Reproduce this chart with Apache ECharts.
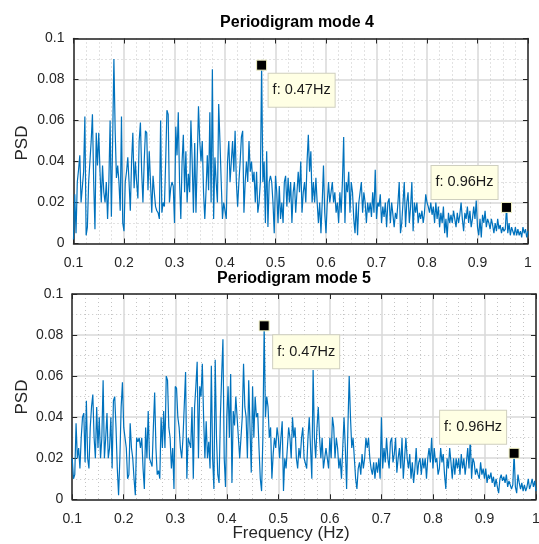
<!DOCTYPE html>
<html>
<head>
<meta charset="utf-8">
<script src="https://cdn.jsdelivr.net/npm/echarts@6/dist/echarts.min.js"></script>
<style>
  html, body { margin: 0; background: #fff; }
  #main { width: 539px; height: 544px; }
</style>
</head>
<body>
<div id="main"></div>
<script>
// frequency grid of the periodograms (Hz)
var fStart = 0.1
var fStep = 0.0025

// PSD, 20 bins (0.05 Hz) per row
var psdMode4 = [
  0.002,0.024,0.005,0.03,0.036,0.043,0.02,0.02,0.035,0.062,0.004,0.008,0.03,0.04,0.05,0.063,0.03,0.007,0.054,0.038,
  0.054,0.035,0.02,0.038,0.025,0.02,0.03,0.012,0.03,0.06,0.013,0.05,0.09,0.055,0.032,0.038,0.03,0.016,0.062,0.01,
  0.006,0.03,0.035,0.042,0.03,0.016,0.04,0.054,0.027,0.04,0.03,0.022,0.05,0.059,0.035,0.02,0.04,0.055,0.054,0.026,
  0.045,0.03,0.015,0.033,0.025,0.018,0.016,0.015,0.012,0.06,0.015,0.02,0.018,0.04,0.065,0.063,0.02,0.027,0.03,0.028,
  0.01,0.057,0.043,0.064,0.03,0.012,0.04,0.053,0.025,0.045,0.02,0.034,0.025,0.06,0.04,0.015,0.049,0.015,0.04,0.067,
  0.05,0.04,0.05,0.025,0.012,0.026,0.043,0.026,0.064,0.02,0.085,0.012,0.042,0.03,0.02,0.068,0.05,0.03,0.012,0.02,
  0.02,0.012,0.04,0.05,0.03,0.04,0.05,0.035,0.055,0.03,0.018,0.03,0.04,0.052,0.055,0.015,0.03,0.04,0.03,0.05,
  0.035,0.04,0.03,0.035,0.02,0.035,0.015,0.02,0.03,0.087,0.03,0.04,0.01,0.045,0.008,0.03,0.033,0.03,0.02,0.005,
  0.033,0.025,0.01,0.028,0.012,0.02,0.01,0.03,0.033,0.018,0.032,0.02,0.03,0.01,0.025,0.03,0.015,0.025,0.035,0.025,
  0.04,0.015,0.025,0.03,0.02,0.04,0.053,0.035,0.045,0.02,0.03,0.02,0.032,0.02,0.01,0.02,0.005,0.02,0.038,0.015,
  0.005,0.02,0.03,0.02,0.025,0.03,0.02,0.025,0.015,0.02,0.01,0.025,0.015,0.03,0.052,0.01,0.03,0.025,0.035,0.015,
  0.03,0.025,0.012,0.005,0.02,0.004,0.02,0.025,0.03,0.015,0.025,0.02,0.01,0.02,0.015,0.02,0.013,0.025,0.015,0.036,
  0.012,0.02,0.018,0.024,0.01,0.018,0.013,0.02,0.008,0.02,0.022,0.01,0.02,0.02,0.008,0.015,0.012,0.02,0.03,0.005,
  0.01,0.02,0.03,0.008,0.02,0.025,0.01,0.018,0.03,0.006,0.02,0.015,0.02,0.01,0.015,0.012,0.016,0.01,0.015,0.024,
  0.02,0.018,0.015,0.02,0.014,0.018,0.01,0.02,0.012,0.018,0.008,0.015,0.01,0.018,0.005,0.012,0.003,0.015,0.01,0.014,
  0.01,0.016,0.012,0.008,0.015,0.01,0.014,0.02,0.012,0.006,0.015,0.012,0.018,0.01,0.016,0.008,0.012,0.018,0.012,0.021,
  0.008,0.004,0.012,0.003,0.014,0.01,0.016,0.008,0.012,0.01,0.007,0.012,0.009,0.005,0.01,0.006,0.012,0.007,0.009,0.005,
  0.008,0.006,0.007,0.0176,0.005,0.01,0.004,0.008,0.006,0.004,0.008,0.004,0.007,0.004,0.006,0.003,0.008,0.005,0.007,0.003,
  0.006
]

var psdMode5 = [
  0.02,0.01,0.012,0.037,0.02,0.025,0.015,0.03,0.04,0.042,0.018,0.048,0.02,0.015,0.035,0.045,0.051,0.03,0.02,0.045,
  0.025,0.04,0.02,0.03,0.058,0.02,0.03,0.042,0.02,0.025,0.04,0.015,0.048,0.05,0.035,0.015,0.002,0.02,0.045,0.057,
  0.035,0.03,0.025,0.01,0.012,0.037,0.025,0.02,0.01,0.002,0.03,0.028,0.03,0.025,0.03,0.015,0.005,0.035,0.02,0.043,
  0.02,0.018,0.016,0.035,0.052,0.025,0.012,0.014,0.01,0.04,0.025,0.043,0.025,0.06,0.058,0.035,0.03,0.015,0.025,0.005,
  0.055,0.054,0.04,0.035,0.025,0.02,0.03,0.03,0.062,0.01,0.03,0.03,0.025,0.045,0.01,0.045,0.055,0.067,0.02,0.055,
  0.05,0.066,0.04,0.02,0.038,0.02,0.028,0.015,0.065,0.02,0.005,0.068,0.03,0.012,0.008,0.04,0.06,0.078,0.02,0.006,
  0.04,0.055,0.03,0.061,0.008,0.043,0.036,0.05,0.04,0.03,0.02,0.03,0.04,0.066,0.045,0.04,0.02,0.058,0.035,0.013,
  0.055,0.03,0.05,0.04,0.042,0.025,0.01,0.004,0.03,0.0845,0.04,0.05,0.045,0.03,0.035,0.01,0.022,0.03,0.025,0.035,
  0.03,0.02,0.03,0.038,0.004,0.02,0.015,0.025,0.035,0.03,0.02,0.04,0.03,0.035,0.02,0.015,0.025,0.02,0.03,0.035,
  0.02,0.02,0.015,0.03,0.04,0.025,0.01,0.063,0.03,0.02,0.035,0.045,0.03,0.02,0.03,0.015,0.02,0.025,0.02,0.015,
  0.03,0.02,0.04,0.035,0.02,0.03,0.025,0.015,0.02,0.01,0.025,0.04,0.025,0.005,0.035,0.06,0.04,0.025,0.03,0.02,
  0.01,0.005,0.015,0.018,0.012,0.022,0.015,0.02,0.03,0.025,0.03,0.02,0.015,0.012,0.018,0.01,0.018,0.013,0.02,0.01,
  0.04,0.015,0.025,0.018,0.03,0.02,0.015,0.028,0.03,0.018,0.022,0.03,0.013,0.02,0.025,0.015,0.03,0.01,0.02,0.03,
  0.02,0.015,0.022,0.01,0.018,0.008,0.015,0.025,0.012,0.018,0.02,0.012,0.02,0.015,0.02,0.01,0.02,0.025,0.018,0.03,
  0.015,0.025,0.018,0.02,0.012,0.015,0.025,0.018,0.022,0.012,0.005,0.02,0.015,0.025,0.018,0.01,0.02,0.012,0.02,0.015,
  0.02,0.012,0.022,0.015,0.02,0.012,0.018,0.025,0.015,0.03,0.01,0.02,0.018,0.012,0.015,0.012,0.01,0.018,0.012,0.015,
  0.01,0.015,0.008,0.012,0.01,0.013,0.008,0.011,0.006,0.01,0.006,0.003,0.01,0.012,0.009,0.011,0.008,0.012,0.006,0.009,
  0.007,0.005,0.007,0.0224,0.006,0.003,0.012,0.008,0.005,0.008,0.004,0.007,0.004,0.006,0.01,0.005,0.007,0.01,0.006,0.009,
  0.004
]

var titles = ['Periodigram mode 4', 'Periodigram mode 5']
// data tips: bin index of each marked peak and its text
var tipIdx = [149, 343]
var tipLabels = ['f: 0.47Hz', 'f: 0.96Hz']

var font = '"Liberation Sans", Arial, Helvetica, sans-serif'
var dark = '#262626'

function freqOf(i) {
  return Math.round((fStart + i * fStep) * 10000) / 10000
}

function pairs(psd) {
  return psd.map(function (v, i) { return [freqOf(i), v] })
}

function xAx(g, pos, main) {
  return {
    type: 'value', gridIndex: g, position: pos,
    min: 0.1, max: 1, interval: 0.1,
    axisLine: { show: true, onZero: false, lineStyle: { color: dark, width: 1.5 } },
    axisTick: { show: true, inside: true, length: 5, lineStyle: { color: dark, width: 1 } },
    axisLabel: { show: main, color: dark, fontSize: 14, fontFamily: font, margin: 13 },
    splitLine: { show: main, lineStyle: { color: '#d9d9d9', width: 1.5 } },
    minorTick: { show: false, splitNumber: 4 },
    minorSplitLine: { show: main, lineStyle: { color: '#c4c4c4', width: 1, type: [1, 3] } }
  }
}

function yAx(g, pos, main) {
  return {
    type: 'value', gridIndex: g, position: pos,
    min: 0, max: 0.1, interval: 0.02,
    axisLine: { show: true, onZero: false, lineStyle: { color: dark, width: 1.5 } },
    axisTick: { show: true, inside: true, length: 5, lineStyle: { color: dark, width: 1 } },
    axisLabel: { show: main, color: dark, fontSize: 14, fontFamily: font, margin: 9 },
    splitLine: { show: main, lineStyle: { color: '#d9d9d9', width: 1.5 } },
    minorTick: { show: false, splitNumber: 2 },
    minorSplitLine: { show: main, lineStyle: { color: '#c4c4c4', width: 1, type: [1, 3] } }
  }
}

// where each tip box sits relative to its marker
var tipOffsets = [
  [[40, 25], [-42, -25]],
  [[42, 26], [-41, -26]]
]

function tips(psd, k) {
  return tipIdx.map(function (i, j) {
    return {
      coord: [freqOf(i), psd[i]],
      itemStyle: { color: '#000', borderColor: '#f2f2c4', borderWidth: 1 },
      label: {
        show: true, position: 'inside', offset: tipOffsets[k][j],
        formatter: tipLabels[j],
        color: '#1a1a1a', fontSize: 14.5, fontFamily: font,
        backgroundColor: '#ffffe4', borderColor: '#cfcfbf', borderWidth: 1,
        padding: [9, 4, 9, 4]
      }
    }
  })
}

var modes = [psdMode4, psdMode5]

var myChart = echarts.init(document.getElementById('main'))
myChart.setOption({
  animation: false,
  backgroundColor: '#fff',
  grid: [
    { left: 73.5, top: 38.5, width: 454.5, height: 205, outerBoundsMode: 'none' },
    { left: 72.2, top: 294, width: 463.8, height: 205.3, outerBoundsMode: 'none' }
  ],
  xAxis: [xAx(0, 'bottom', true), xAx(0, 'top', false), xAx(1, 'bottom', true), xAx(1, 'top', false)],
  yAxis: [yAx(0, 'left', true), yAx(0, 'right', false), yAx(1, 'left', true), yAx(1, 'right', false)],
  series: modes.map(function (psd, k) {
    return {
      type: 'line', xAxisIndex: k * 2, yAxisIndex: k * 2,
      data: pairs(psd), showSymbol: false, symbol: 'none',
      lineStyle: { color: '#0072BD', width: 1.2 },
      markPoint: { symbol: 'rect', symbolSize: 10, animation: false, data: tips(psd, k) }
    }
  }),
  graphic: [
    { type: 'text', x: 297, y: 23, style: { text: titles[0], fill: '#000', fontSize: 16, fontWeight: 'bold', fontFamily: font, align: 'center', verticalAlign: 'middle' } },
    { type: 'text', x: 294, y: 279, style: { text: titles[1], fill: '#000', fontSize: 16, fontWeight: 'bold', fontFamily: font, align: 'center', verticalAlign: 'middle' } },
    { type: 'text', x: 22.5, y: 143, rotation: Math.PI / 2, style: { text: 'PSD', fill: dark, fontSize: 17, fontFamily: font, align: 'center', verticalAlign: 'middle' } },
    { type: 'text', x: 22.5, y: 397, rotation: Math.PI / 2, style: { text: 'PSD', fill: dark, fontSize: 17, fontFamily: font, align: 'center', verticalAlign: 'middle' } },
    { type: 'text', x: 291, y: 533, style: { text: 'Frequency (Hz)', fill: dark, fontSize: 17, fontFamily: font, align: 'center', verticalAlign: 'middle' } }
  ]
})
</script>
</body>
</html>
